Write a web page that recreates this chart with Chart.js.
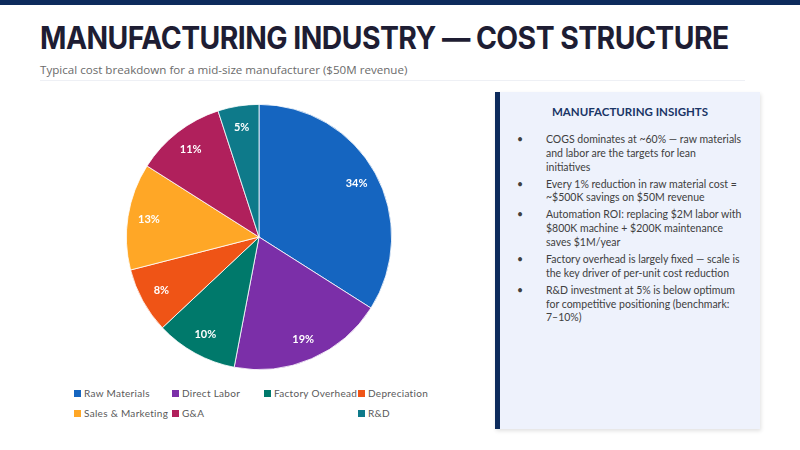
<!DOCTYPE html>
<html>
<head>
<meta charset="utf-8">
<script src="https://cdn.jsdelivr.net/npm/chart.js"></script>
<style>
    body { margin: 0; width: 800px; height: 450px; background: #fff; position: relative; overflow: hidden; font-family: 'Open Sans', sans-serif; }
    .topbar { position: absolute; left: 0; top: 0; width: 800px; height: 5px; background: #0d2b5c; }
    h1 { position: absolute; left: 40px; top: 19px; margin: 0; font-family: Inter, sans-serif; font-weight: 700; font-size: 31px; color: #1e1d33; letter-spacing: -0.6px; white-space: nowrap; transform: scaleX(0.915); transform-origin: left top; }
    .sub { position: absolute; left: 40px; top: 62px; font-size: 11.6px; color: #6b6b6b; white-space: nowrap; }
    .rule { position: absolute; left: 40px; top: 80px; width: 705px; height: 1px; background: #eef0f5; }
    .chartbox { position: absolute; left: 126px; top: 104px; width: 266px; height: 266px; }
    .legend { position: absolute; left: 74px; top: 386px; display: grid; grid-template-columns: 98px 92px 94px 90px; row-gap: 6px; font-family: Lato, sans-serif; font-size: 10px; color: #595959; letter-spacing: 0.3px; }
    .legend div { display: flex; align-items: center; white-space: nowrap; height: 14px; }
    .legend span.sw { width: 7px; height: 7px; margin-right: 3px; display: inline-block; }
    .panel { position: absolute; left: 495px; top: 92px; width: 265px; height: 337px; background: #eef2fc; border-left: 5px solid #0d2b5c; box-sizing: border-box; box-shadow: 1px 2px 4px rgba(0,0,0,0.12); }
    .panel h3 { margin: 13px 0 15px 0; text-align: center; font-family: Lato, sans-serif; font-weight: 700; font-size: 11.5px; color: #1a3566; letter-spacing: 0; }
    .panel ul { margin: 0; padding: 0; list-style: none; }
    .panel li { position: relative; padding-left: 46px; margin-bottom: 3.2px; font-family: Lato, sans-serif; font-size: 10.5px; line-height: 13.8px; color: #404040; white-space: nowrap; }
    .panel li:before { content: '\2022'; position: absolute; left: 17px; top: 0; }
</style>
</head>
<body>
<div class="topbar"></div>
<h1>MANUFACTURING INDUSTRY — COST STRUCTURE</h1>
<div class="sub">Typical cost breakdown for a mid-size manufacturer ($50M revenue)</div>
<div class="rule"></div>
<div class="chartbox"><canvas id="costPie"></canvas></div>
<div class="legend" id="legend"></div>
<div class="panel">
    <h3>MANUFACTURING INSIGHTS</h3>
    <ul id="insights"></ul>
</div>
<script>
const categories = ['Raw Materials', 'Direct Labor', 'Factory Overhead', 'Depreciation', 'Sales & Marketing', 'G&A', 'R&D'];
const shares = [34, 19, 10, 8, 13, 11, 5];
const sliceColors = ['#1565c0', '#7b2fa8', '#00796b', '#ef5416', '#ffa726', '#b0205c', '#0e7a8a'];
// insight bullets, one inner array per bullet, split where the slide wraps
const insights = [
    ['COGS dominates at ~60% — raw materials', 'and labor are the targets for lean', 'initiatives'],
    ['Every 1% reduction in raw material cost =', '~$500K savings on $50M revenue'],
    ['Automation ROI: replacing $2M labor with', '$800K machine + $200K maintenance', 'saves $1M/year'],
    ['Factory overhead is largely fixed — scale is', 'the key driver of per-unit cost reduction'],
    ['R&D investment at 5% is below optimum', 'for competitive positioning (benchmark:', '7–10%)']
];

function esc(s) {
    return s.replace(/&/g, '&amp;').replace(/</g, '&lt;');
}

// legend grid
const legendEl = document.getElementById('legend');
categories.forEach(function(name, i) {
    const d = document.createElement('div');
    d.innerHTML = '<span class="sw" style="background:' + sliceColors[i] + '"></span>' + esc(name);
    legendEl.appendChild(d);
    if (i === 5) legendEl.appendChild(document.createElement('span'));
});

const ul = document.getElementById('insights');
insights.forEach(function(lines) {
    const li = document.createElement('li');
    li.innerHTML = lines.map(esc).join('<br>');
    ul.appendChild(li);
});

// percent labels inside slices
const sliceLabels = {
    id: 'sliceLabels',
    afterDatasetsDraw: function(chart) {
        const ctx = chart.ctx;
        const meta = chart.getDatasetMeta(0);
        ctx.save();
        ctx.font = 'bold 11px Lato, sans-serif';
        ctx.fillStyle = '#fff';
        ctx.textAlign = 'center';
        ctx.textBaseline = 'middle';
        meta.data.forEach(function(arc, i) {
            const p = arc.getProps(['x', 'y', 'startAngle', 'endAngle', 'outerRadius'], true);
            const mid = (p.startAngle + p.endAngle) / 2;
            const r = p.outerRadius * 0.84;
            ctx.fillText(shares[i] + '%', p.x + Math.cos(mid) * r, p.y + Math.sin(mid) * r);
        });
        ctx.restore();
    }
};

new Chart(document.getElementById('costPie'), {
    type: 'pie',
    data: {
        labels: categories,
        datasets: [{
            data: shares,
            backgroundColor: sliceColors,
            borderColor: '#ffffff',
            borderWidth: 0.8
        }]
    },
    options: {
        responsive: true,
        maintainAspectRatio: false,
        animation: false,
        plugins: {
            legend: { display: false },
            tooltip: { enabled: false }
        }
    },
    plugins: [sliceLabels]
});
</script>
</body>
</html>
